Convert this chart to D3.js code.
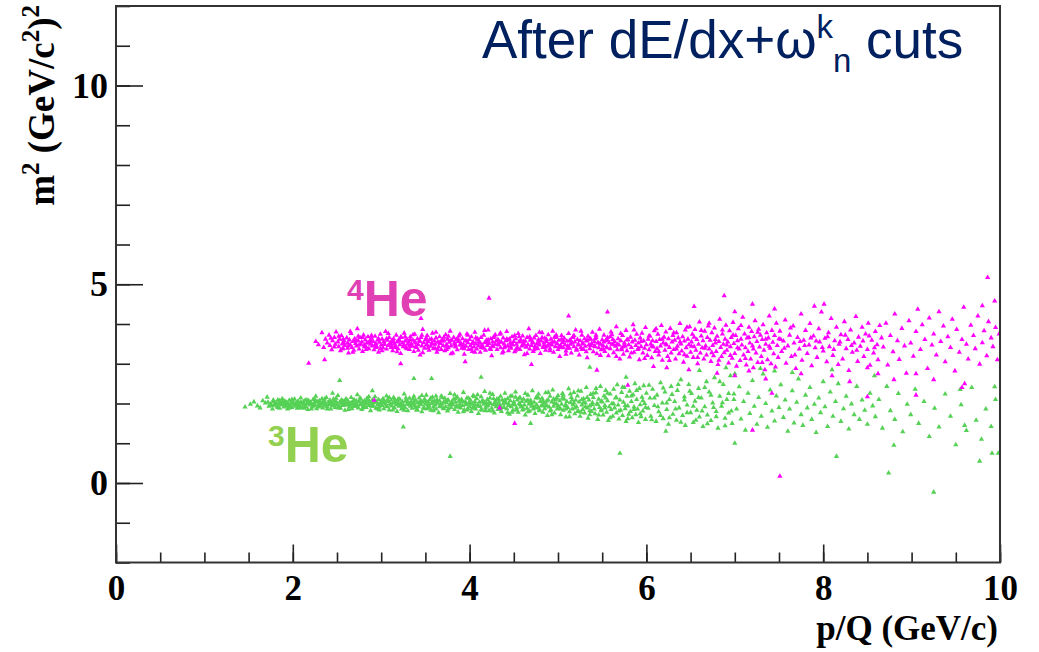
<!DOCTYPE html>
<html>
<head>
<meta charset="utf-8">
<script src="https://cdn.jsdelivr.net/npm/d3@7"></script>
<style>
  body { margin: 0; background: #fff; }
  text { font-family: "Liberation Serif", "Times New Roman", serif; font-weight: bold; }
</style>
</head>
<body>
<svg id="chart" width="1039" height="652"></svg>
<script>
// axis ranges and ticks
const X_DOMAIN = [0, 10];
const Y_DOMAIN = [-2, 12];
const X_MAJOR = [0, 2, 4, 6, 8, 10];
const Y_MAJOR = [0, 5, 10];

// points, flat [p, m2, p, m2, ...] in hundredths
const he4Points = [
  226,356, 229,348, 233,378, 235,341, 237,362, 239,352, 241,372, 242,346, 244,335, 245,358, 247,366, 248,349, 249,380,
  251,355, 252,343, 253,362, 254,333, 255,371, 256,350, 257,339, 258,358, 259,346, 261,365, 262,352, 263,327, 264,360, 265,348, 266,376, 267,341, 268,356, 269,334, 270,363,
  271,351, 272,345, 273,388, 274,358, 275,337, 276,366, 277,349, 278,355, 279,331, 280,372, 281,347, 282,360, 283,342, 284,353, 285,368, 286,338, 287,357, 288,349, 289,364, 290,345,
  291,356, 292,335, 293,369, 294,351, 295,343, 296,360, 297,329, 298,354, 299,374, 300,347, 301,362, 302,340, 303,356, 304,349, 305,381, 306,337, 307,359, 308,346, 309,366, 310,352,
  311,341, 312,358, 313,333, 314,363, 315,350, 316,345, 317,372, 318,355, 319,338, 320,361, 321,348, 322,326, 323,366, 324,352, 325,343, 326,377, 327,357, 328,340, 329,362, 330,349,
  331,355, 332,336, 333,368, 334,350, 335,344, 336,359, 337,331, 338,374, 339,352, 340,341, 341,363, 342,348, 343,357, 344,322, 345,366, 346,345, 347,386, 348,353, 349,339, 350,360,
  351,347, 352,371, 353,356, 354,334, 355,361, 356,344, 357,352, 358,377, 359,338, 360,358, 361,349, 362,365, 363,329, 364,355, 365,342, 366,368, 367,351, 368,336, 369,360, 370,346,
  371,357, 372,333, 373,373, 374,348, 375,362, 376,340, 377,354, 378,382, 379,345, 380,359, 381,327, 382,366, 383,350, 384,342, 385,361, 386,335, 387,356, 388,370, 389,347, 390,352,
  391,339, 392,363, 393,349, 394,324, 395,358, 396,344, 397,375, 398,353, 399,336, 400,361, 401,346, 402,368, 403,331, 404,355, 405,342, 406,379, 407,350, 408,337, 409,360, 410,345,
  411,356, 412,329, 413,366, 414,348, 415,341, 416,372, 417,353, 418,334, 419,359, 420,346, 421,385, 422,351, 423,338, 424,363, 425,320, 426,355, 427,343, 428,369, 429,349, 430,357,
  431,336, 432,361, 433,347, 434,374, 435,340, 436,354, 437,327, 438,365, 439,350, 440,343, 441,358, 442,381, 443,345, 444,333, 445,362, 446,352, 447,339, 448,368, 449,347, 450,356,
  451,330, 452,363, 453,349, 454,341, 455,376, 456,355, 457,336, 458,360, 459,345, 460,370, 461,351, 462,323, 463,357, 464,342, 465,366, 466,348, 467,388, 468,337, 469,359, 470,346,
  471,354, 472,331, 473,365, 474,343, 475,371, 476,350, 477,338, 478,361, 479,347, 480,326, 481,357, 482,378, 483,341, 484,352, 485,364, 486,334, 487,356, 488,345, 489,373, 490,349,
  491,338, 492,362, 493,347, 494,382, 495,329, 496,355, 497,343, 498,367, 499,351, 500,336, 501,359, 502,318, 503,346, 504,371, 505,353, 506,340, 507,364, 508,348, 509,332, 510,357,
  511,345, 512,376, 513,339, 514,360, 515,327, 516,352, 517,368, 518,343, 519,355, 520,385, 521,334, 522,361, 523,347, 524,322, 525,358, 526,341, 527,372, 528,350, 529,336, 530,363,
  531,344, 532,357, 533,315, 534,369, 535,348, 536,338, 537,362, 538,351, 539,379, 540,330, 541,356, 542,343, 543,366, 544,325, 545,353, 546,340, 547,387, 548,349, 549,335, 550,360,
  551,346, 552,372, 553,331, 554,358, 555,342, 556,366, 557,320, 558,353, 559,338, 560,380, 561,349, 562,361, 563,328, 564,356, 565,344, 566,393, 567,335, 568,363, 569,347, 570,312,
  571,358, 572,339, 573,371, 574,324, 575,352, 576,345, 577,384, 578,333, 579,361, 580,348, 581,317, 582,367, 583,341, 584,355, 585,398, 586,329, 587,359, 588,346, 589,374, 590,336,
  591,352, 592,310, 593,365, 594,343, 595,377, 596,327, 597,357, 598,339, 599,391, 600,348, 601,321, 602,362, 603,335, 604,370, 605,350, 606,315, 607,358, 608,342, 609,383, 610,331,
  611,356, 612,338, 613,374, 614,322, 615,361, 616,345, 617,396, 618,309, 619,352, 620,367, 621,334, 622,380, 623,347, 624,318, 625,363, 626,341, 627,389, 628,327, 629,355, 630,371,
  631,336, 632,359, 633,312, 634,378, 635,344, 636,365, 637,325, 638,401, 639,350, 640,332, 641,368, 642,304, 643,357, 644,385, 645,340, 646,319, 647,362, 648,348, 649,393, 650,329,
  651,355, 652,374, 653,316, 654,343, 655,386, 656,334, 657,361, 658,300, 659,349, 660,405, 661,327, 662,370, 663,340, 664,358, 665,312, 666,382, 667,345, 668,322, 669,366, 670,395,
  671,337, 672,359, 673,306, 674,378, 675,346, 676,320, 677,390, 678,352, 679,331, 680,369, 681,298, 682,356, 683,412, 684,341, 685,318, 686,375, 687,349, 688,328, 689,362, 690,397,
  691,334, 692,355, 693,302, 694,383, 695,343, 696,366, 697,314, 698,404, 699,351, 700,326, 701,371, 702,294, 703,358, 704,388, 705,337, 706,308, 707,362, 708,347, 709,417, 710,322,
  711,375, 712,340, 713,297, 714,365, 715,331, 716,392, 717,352, 718,312, 719,381, 720,345, 721,290, 722,368, 723,408, 724,327, 725,356, 726,303, 727,387, 728,342, 729,372, 730,318,
  731,361, 732,398, 733,334, 734,285, 735,349, 736,378, 737,310, 738,365, 739,420, 740,339, 741,300, 742,384, 743,354, 744,325, 745,371, 746,292, 747,402, 748,346, 749,316, 750,363,
  751,382, 753,331, 755,357, 757,410, 758,301, 760,345, 762,372, 764,318, 766,395, 767,352, 769,288, 771,366, 773,337, 775,425, 776,309, 778,359, 780,384, 782,326, 784,347, 785,401,
  787,295, 789,370, 791,340, 793,316, 795,388, 796,355, 798,430, 800,332, 802,364, 804,305, 806,378, 807,343, 809,414, 811,321, 813,358, 815,392, 817,298, 818,349, 820,373, 822,312,
  824,406, 826,338, 828,361, 829,283, 831,385, 833,329, 835,352, 837,419, 839,306, 840,367, 842,344, 844,392, 846,318, 848,375, 850,336, 851,402, 853,296, 855,359, 857,327, 859,381,
  861,348, 862,310, 864,396, 866,365,
  752,361, 756,339, 763,390, 768,322, 774,356, 779,346, 786,365, 792,357, 799,341, 805,368, 812,336, 819,355, 825,372, 832,346, 838,334, 845,357, 852,370, 858,340,
  868,342, 871,402, 873,297, 876,371, 879,330, 881,425, 884,358, 886,311, 889,389, 892,345, 894,276, 897,408, 899,352, 902,319, 905,381, 907,437, 910,336, 912,398, 915,361, 918,288,
  920,415, 923,347, 925,375, 928,322, 931,431, 933,356, 936,395, 938,305, 941,368, 944,341, 946,412, 949,282, 951,386, 954,329, 957,361, 959,442, 962,349, 964,312, 967,397, 970,371,
  972,338, 975,420, 977,299, 980,353, 982,383, 985,320, 987,406, 990,365, 992,343, 995,391, 997,310, 999,375,
  422,465, 688,471, 986,517, 994,458, 980,446, 801,450, 751,17, 218,301, 292,208, 434,189, 451,150, 579,246, 654,444, 700,431, 556,430, 345,414,
  512,420, 830,255, 775,275, 880,260, 905,275, 957,240, 648,285, 700,270, 735,262, 862,275, 236,310, 322,300, 395,305, 470,298, 608,293, 720,450,
  745,438, 790,445, 810,270, 850,290, 544,284, 623,290, 680,276, 716,282, 850,217, 905,221, 720,133, 742,226, 960,250, 925,260,
  243,364, 247,342, 252,369, 256,337, 258,351, 263,345, 265,381, 268,329, 272,358, 275,347, 279,366, 283,336, 286,352, 289,371, 294,341, 297,363,
  301,333, 303,349, 308,376, 312,344, 314,356, 318,330, 322,367, 326,348, 329,338, 333,361, 336,373, 339,343, 344,356, 347,328, 351,365, 353,340,
  358,350, 362,379, 364,335, 368,357, 373,344, 376,369, 379,325, 383,353, 387,362, 391,347, 394,338, 398,372, 403,351, 406,329, 409,363, 413,341,
  417,384, 419,354, 424,336, 427,366, 432,349, 435,377, 438,331, 443,360, 446,344, 451,371, 453,338, 457,356, 462,347, 465,326, 468,368, 472,352,
  476,339, 479,379, 484,345, 487,361, 491,333, 494,355, 498,372, 503,341, 506,358, 509,324, 514,349, 517,366, 521,337, 526,382, 528,352, 532,330,
  536,363, 541,345, 543,372, 548,321, 552,355, 555,340, 559,368, 563,348, 566,318, 571,376, 574,343, 578,360, 583,327, 586,385, 591,338, 594,356,
  598,313, 603,370, 606,344, 611,388, 614,331, 618,362, 622,349, 626,308, 631,378, 634,337, 638,355, 643,323, 646,392, 651,344, 654,367, 658,316,
  662,384, 666,339, 671,402, 674,328, 678,361, 682,309, 686,385, 691,347, 695,321, 698,372, 703,340, 707,396, 712,313, 716,366, 721,337, 726,379,
  731,303, 735,362, 739,344,
  257,362, 262,339, 269,357, 274,369, 281,343, 288,358, 293,346, 299,338, 306,363, 311,351, 316,341, 321,357, 327,368, 332,344, 338,355, 342,334,
  346,372, 352,348, 357,362, 361,339, 366,353, 371,367, 374,336, 378,358, 384,347, 389,374, 393,342, 397,357, 402,337, 407,365, 411,352, 416,339,
  421,360, 426,346, 429,373, 434,355, 439,340, 442,362, 448,351, 452,334, 456,368, 461,356, 464,342, 469,362, 473,335, 478,354, 482,366, 486,342,
  492,351, 496,367, 501,344, 504,362, 511,339, 513,358, 518,371, 523,349, 527,336, 533,359, 537,346, 542,363, 546,352, 551,337, 556,359, 561,373,
  567,349, 572,335
];

const he3Points = [
  146,191, 152,198, 156,204, 160,194, 163,189, 166,207, 169,201, 171,216, 173,193, 175,199, 177,186, 178,205, 179,197,
  181,202, 182,193, 183,209, 184,198, 185,188, 186,204, 187,196, 188,212, 189,200, 190,191, 191,206, 192,197, 193,203, 194,186, 195,199, 196,208, 197,194, 198,201, 199,190, 200,205,
  201,197, 202,211, 203,193, 204,202, 205,188, 206,206, 207,199, 208,194, 209,214, 210,201, 211,190, 212,204, 213,197, 214,208, 215,192, 216,200, 217,185, 218,207, 219,196, 220,203,
  221,199, 222,191, 223,210, 224,202, 225,195, 226,218, 227,187, 228,204, 229,198, 230,207, 231,193, 232,201, 233,212, 234,189, 235,205, 236,196, 237,200, 238,215, 239,192, 240,203,
  241,197, 242,208, 243,186, 244,201, 245,194, 246,211, 247,199, 248,190, 249,205, 250,197, 251,220, 252,193, 253,203, 254,188, 255,209, 256,198, 257,195, 258,206, 259,183, 260,201,
  261,210, 262,196, 263,204, 264,191, 265,199, 266,215, 267,187, 268,202, 269,196, 270,208, 271,193, 272,200, 273,222, 274,189, 275,205, 276,197, 277,211, 278,185, 279,203, 280,194,
  281,207, 282,199, 283,190, 284,213, 285,201, 286,195, 287,205, 288,182, 289,198, 290,209, 291,193, 292,202, 293,217, 294,188, 295,204, 296,197, 297,210, 298,191, 299,200, 300,206,
  301,195, 302,212, 303,187, 304,203, 305,198, 306,219, 307,192, 308,205, 309,184, 310,200, 311,209, 312,194, 313,201, 314,215, 315,189, 316,206, 317,197, 318,180, 319,203, 320,193,
  321,211, 322,199, 323,186, 324,204, 325,196, 326,224, 327,190, 328,207, 329,198, 330,182, 331,202, 332,213, 333,193, 334,205, 335,188, 336,199, 337,218, 338,195, 339,208, 340,184,
  341,201, 342,192, 343,214, 344,197, 345,206, 346,179, 347,203, 348,190, 349,211, 350,198, 351,221, 352,187, 353,204, 354,195, 355,209, 356,183, 357,200, 358,216, 359,191, 360,206,
  361,196, 362,186, 363,210, 364,201, 365,177, 366,207, 367,193, 368,219, 369,199, 370,188, 371,204, 372,213, 373,192, 374,202, 375,181, 376,208, 377,196, 378,225, 379,190, 380,205,
  381,198, 382,211, 383,185, 384,203, 385,194, 386,216, 387,178, 388,206, 389,199, 390,189, 391,210, 392,195, 393,228, 394,184, 395,204, 396,197, 397,214, 398,187, 399,201, 400,192,
  401,208, 402,180, 403,199, 404,220, 405,191, 406,205, 407,186, 408,212, 409,196, 410,175, 411,203, 412,193, 413,217, 414,183, 415,207, 416,198, 417,230, 418,189, 419,201, 420,210,
  421,195, 422,182, 423,214, 424,200, 425,188, 426,223, 427,197, 428,176, 429,206, 430,192, 431,211, 432,185, 433,203, 434,196, 435,218, 436,180, 437,209, 438,199, 439,190, 440,226,
  441,201, 442,187, 443,212, 444,195, 445,173, 446,207, 447,192, 448,219, 449,183, 450,204, 451,197, 452,229, 453,189, 454,209, 455,178, 456,200, 457,215, 458,191, 459,205, 460,184,
  461,211, 462,196, 463,171, 464,206, 465,188, 466,221, 467,199, 468,181, 469,208, 470,193, 471,232, 472,186, 473,203, 474,175, 475,214, 476,197, 477,190, 478,224, 479,182, 480,205,
  481,194, 482,213, 483,178, 484,201, 485,187, 486,227, 487,196, 488,170, 489,209, 490,191, 491,218, 492,184, 493,204, 494,234, 495,193, 496,176, 497,210, 498,199, 499,186, 500,220,
  501,189, 502,207, 503,172, 504,198, 505,225, 506,183, 507,211, 508,194, 509,166, 510,205, 511,190, 512,237, 513,179, 514,202, 515,215, 516,186, 517,197, 518,228, 519,174, 520,208,
  521,192, 522,219, 523,181, 524,204, 525,168, 526,231, 527,196, 528,185, 529,212, 530,176, 531,201, 532,240, 533,189, 534,163, 535,209, 536,194, 537,223, 538,180, 539,202, 540,215,
  541,186, 542,174, 543,227, 544,199, 545,160, 546,211, 547,190, 548,243, 549,182, 550,204, 551,171, 552,219, 553,195, 554,233, 555,178, 556,207, 557,157, 558,192, 559,224, 560,185,
  561,200, 562,168, 563,236, 564,189, 565,214, 566,176, 567,247, 568,196, 569,161, 570,209, 571,183, 572,228, 573,170, 574,203, 575,240, 576,187, 577,155, 578,218, 579,194, 580,173,
  581,231, 582,180, 583,205, 584,164, 585,222, 586,191, 587,250, 588,172, 589,210, 590,186, 591,152, 592,238, 593,197, 594,167, 595,216, 596,181, 597,245, 598,200, 599,160, 600,226,
  602,188, 604,214, 605,168, 607,236, 609,195, 611,155, 612,221, 614,179, 616,252, 618,201, 619,162, 621,229, 623,185, 625,148, 626,210, 628,243, 630,173,
  632,205, 634,158, 635,233, 637,189, 639,260, 641,170, 643,217, 644,145, 646,196, 648,248, 650,177, 651,225, 653,152, 655,206, 657,183, 659,238, 660,166,
  662,214, 664,142, 666,192, 668,255, 669,171, 671,229, 673,157, 675,201, 677,265, 679,180, 681,138, 683,218, 685,193, 687,248, 689,163, 691,210, 693,176, 695,270, 697,150, 699,224,
  702,186, 705,242, 707,161, 710,205, 712,133, 715,226, 717,175, 720,258, 722,193, 725,148, 727,215, 730,168, 732,274, 735,200, 737,140, 740,234, 742,181, 745,156, 747,219, 750,190,
  752,247, 755,165, 757,209, 760,130, 762,186, 765,232, 767,151, 770,203, 772,262, 775,172, 777,145, 780,221, 782,189, 785,240, 787,160, 790,198, 792,127, 795,214, 797,177, 800,255,
  802,192, 805,142, 808,229, 811,168, 814,205, 817,250, 820,155, 823,187, 826,218, 829,136, 832,199, 835,172, 838,243, 841,160, 844,209, 847,183, 850,148, 853,226, 856,194, 859,167,
  863,210, 867,138, 872,243, 876,182, 881,160, 885,225, 890,129, 895,198, 899,172, 904,236, 908,150, 914,205, 920,117, 926,188, 931,141, 938,224, 944,168, 950,96, 956,197, 962,132,
  968,240, 973,158, 979,110, 984,186, 990,142, 995,210, 998,75,
  253,258, 337,263, 357,263, 577,266, 536,291, 413,266, 325,141, 378,67, 570,75, 815,67, 874,25, 925,-23, 977,55, 991,75, 994,242, 700,275,
  729,288, 660,283, 745,282, 765,278, 690,290, 810,285, 858,270, 955,235, 245,226, 290,232, 469,150, 622,130, 700,100, 880,95, 960,145,
  172,203, 176,195, 178,209, 183,190, 186,200, 189,207, 193,195, 196,189, 199,210, 203,198, 206,192, 209,203, 213,188, 216,209, 219,201, 223,194,
  226,205, 229,191, 233,199, 236,211, 239,186, 243,204, 246,195, 249,213, 253,191, 256,206, 259,197, 263,185, 266,202, 269,209, 273,194, 276,214,
  279,189, 283,201, 286,217, 289,193, 293,206, 296,186, 299,198, 303,209, 306,193, 309,215, 313,184, 316,202, 319,211, 323,195, 326,183, 329,206,
  333,199, 336,212, 339,190, 343,203, 346,220, 349,187, 353,196, 356,213, 359,182, 363,201, 366,192, 369,215, 373,205, 376,186, 379,198, 383,222,
  386,191, 389,208, 393,179, 396,201, 399,213, 403,188, 406,197, 409,222, 413,185, 416,204, 419,193, 423,226, 426,181, 429,199, 433,211, 436,190,
  439,206, 443,177, 446,218, 449,197, 453,184, 456,213, 459,193, 463,225, 466,179, 469,204, 473,191, 476,216, 479,185, 483,207, 486,194, 489,228,
  493,172, 496,201, 499,213, 503,186, 506,221, 509,196, 513,167, 516,209, 519,189, 523,232, 526,178, 529,203, 533,215, 536,182, 539,197, 543,238,
  546,171, 549,206, 553,189, 556,226, 559,164, 563,199, 566,215, 569,181, 573,241, 576,195, 579,162, 583,219, 586,185, 589,233, 593,174, 596,207,
  599,190, 603,246, 606,159, 609,214, 613,192, 616,170, 619,239, 623,201, 626,164, 629,223, 633,186, 636,248, 639,153, 643,209, 646,177, 649,231,
  653,193, 656,158, 659,215, 663,181, 666,240, 669,149, 673,221, 676,190, 679,167, 683,255, 686,202, 689,144, 693,225, 696,181, 699,210,
  180,196, 185,207, 190,199, 195,193, 200,201, 204,196, 208,189, 212,199, 217,204, 221,186, 225,210, 230,198, 234,203, 238,194, 242,200, 247,207,
  251,189, 255,201, 260,211, 264,197, 268,193, 272,206, 277,200, 281,192, 285,210, 290,198, 294,203, 298,184, 302,201, 307,209, 311,196, 315,211,
  320,200, 324,190, 328,214, 332,197, 337,204, 341,184, 345,198, 350,207, 354,190, 358,203, 362,219, 367,198, 371,187, 375,208, 380,196, 384,212,
  388,191, 392,205, 397,184, 401,199, 405,217, 410,193, 414,206, 418,182, 422,203, 427,212, 431,196, 435,186, 440,209, 444,200, 448,178, 452,216,
  457,197, 461,186, 466,208, 470,199, 474,189, 478,214, 483,195, 487,206, 491,181, 495,211, 500,195, 505,213, 509,186, 514,224, 518,201, 522,180,
  527,210, 531,192, 536,172, 540,226, 545,198, 549,185, 554,214
];

const M = { left: 116, right: 1000, top: 6, bottom: 562.5 };

const svg = d3.select("#chart");

const x = d3.scaleLinear().domain(X_DOMAIN).range([M.left, M.right]);
const y = d3.scaleLinear().domain(Y_DOMAIN).range([M.bottom, M.top]);

function toPairs(flat) {
  let out = [];
  for (let i = 0; i < flat.length; i += 2) {
    out.push({ p: flat[i] / 100, m2: flat[i + 1] / 100 });
  }
  return out;
}

svg.append("clipPath").attr("id", "plotClip")
  .append("rect")
  .attr("x", M.left).attr("y", M.top)
  .attr("width", M.right - M.left).attr("height", M.bottom - M.top);

const marker = d3.symbol().type(d3.symbolTriangle).size(12);

const dots = svg.append("g").attr("clip-path", "url(#plotClip)");

dots.selectAll(".he3")
  .data(toPairs(he3Points))
  .join("path")
  .attr("class", "he3")
  .attr("d", marker)
  .attr("transform", d => `translate(${x(d.p)},${y(d.m2)})`)
  .attr("fill", "#55d155");

dots.selectAll(".he4")
  .data(toPairs(he4Points))
  .join("path")
  .attr("class", "he4")
  .attr("d", marker)
  .attr("transform", d => `translate(${x(d.p)},${y(d.m2)})`)
  .attr("fill", "#ff00ff");

// axes: ticks point inward like ROOT
svg.append("g")
  .attr("transform", `translate(${M.left},0)`)
  .call(d3.axisLeft(y).tickValues(y.ticks(14)).tickSizeInner(-14).tickSizeOuter(0).tickFormat(""));
svg.append("g")
  .attr("class", "ylab")
  .attr("transform", `translate(${M.left},0)`)
  .call(d3.axisLeft(y).tickValues(Y_MAJOR).tickSizeInner(-27).tickSizeOuter(0).tickPadding(8));
svg.append("g")
  .attr("transform", `translate(0,${M.bottom})`)
  .call(d3.axisBottom(x).tickValues(x.ticks(20)).tickSizeInner(-10).tickSizeOuter(0).tickFormat(""));
svg.append("g")
  .attr("class", "xlab")
  .attr("transform", `translate(0,${M.bottom})`)
  .call(d3.axisBottom(x).tickValues(X_MAJOR).tickSizeInner(-18).tickSizeOuter(0).tickPadding(13));

svg.selectAll(".domain").remove();
svg.selectAll(".tick line").attr("stroke", "#222").attr("stroke-width", 1.6);
svg.selectAll(".tick text")
  .attr("font-family", "Liberation Serif, Times New Roman, serif")
  .attr("font-weight", "bold")
  .attr("font-size", 36)
  .attr("fill", "#000");
svg.selectAll(".xlab .tick text").attr("font-size", 35);

// frame
svg.append("rect")
  .attr("x", M.left).attr("y", M.top)
  .attr("width", M.right - M.left).attr("height", M.bottom - M.top)
  .attr("fill", "none").attr("stroke", "#333").attr("stroke-width", 2);

// axis titles
svg.append("text")
  .attr("x", 998).attr("y", 640)
  .attr("text-anchor", "end")
  .attr("font-size", 35)
  .text("p/Q (GeV/c)");

const yTitle = svg.append("text")
  .attr("transform", "translate(54,5) rotate(-90)")
  .attr("text-anchor", "end")
  .attr("font-size", 37);
yTitle.append("tspan").text("m");
yTitle.append("tspan").attr("font-size", 25).attr("dy", -15).text("2");
yTitle.append("tspan").attr("dy", 15).text(" (GeV/c");
yTitle.append("tspan").attr("font-size", 25).attr("dy", -15).text("2");
yTitle.append("tspan").attr("dy", 15).text(")");
yTitle.append("tspan").attr("font-size", 25).attr("dy", -15).text("2");

// title
const title = svg.append("text")
  .attr("x", 482).attr("y", 58)
  .attr("fill", "#002060")
  .style("font-family", "Liberation Sans, Arial, sans-serif")
  .style("font-weight", "normal")
  .attr("font-size", 53);
title.append("tspan").text("After dE/dx+ω");
title.append("tspan").attr("font-size", 33).attr("dy", -20).text("k");
title.append("tspan").attr("font-size", 33).attr("dy", 34).text("n");
title.append("tspan").attr("dy", -14).text(" cuts");

// species labels
const lab4 = svg.append("text")
  .attr("x", 347).attr("y", 316)
  .attr("fill", "#e040b4")
  .style("font-family", "Liberation Sans, Arial, sans-serif")
  .attr("font-size", 50);
lab4.append("tspan").attr("font-size", 30).attr("dy", -16).text("4");
lab4.append("tspan").attr("dy", 16).text("He");

const lab3 = svg.append("text")
  .attr("x", 268).attr("y", 462)
  .attr("fill", "#92d050")
  .style("font-family", "Liberation Sans, Arial, sans-serif")
  .attr("font-size", 50);
lab3.append("tspan").attr("font-size", 30).attr("dy", -16).text("3");
lab3.append("tspan").attr("dy", 16).text("He");
</script>
</body>
</html>
